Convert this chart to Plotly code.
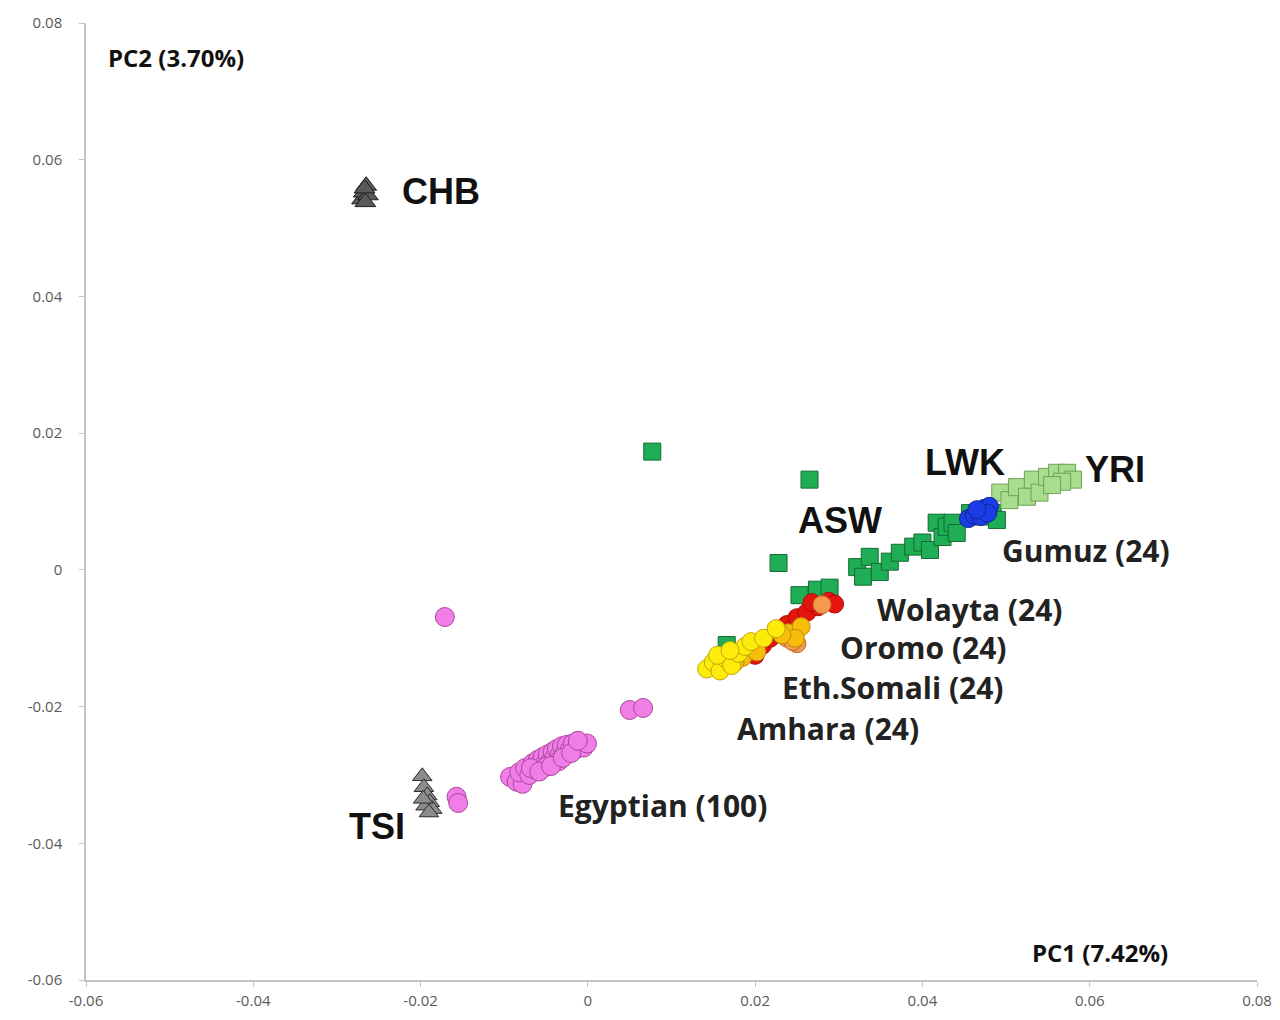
import plotly.graph_objects as go

# ---------------- data (PC1, PC2) ----------------
chb_x = [-0.0270, -0.0268, -0.0265, -0.0263, -0.0266, -0.0267]
chb_y = [0.0542, 0.0552, 0.0562, 0.0548, 0.0538, 0.0558]

tsi_x = [-0.0198, -0.0196, -0.0192, -0.0189, -0.0194, -0.0186, -0.0190, -0.0197]
tsi_y = [-0.0302, -0.0318, -0.0330, -0.0340, -0.0345, -0.0350, -0.0355, -0.0335]

egy_x = [-0.0171, -0.0157, -0.0155, 0.0050, 0.0066,
         -0.0093, -0.0085, -0.0078, -0.0082, -0.0075, -0.0070, -0.0066, -0.0063,
         -0.0060, -0.0057, -0.0054, -0.0051, -0.0048, -0.0045, -0.0042, -0.0040,
         -0.0037, -0.0034, -0.0031, -0.0028, -0.0025, -0.0022, -0.0018, -0.0014,
         -0.0010, -0.0005, -0.0001, -0.0068, -0.0050, -0.0035, -0.0058, -0.0044,
         -0.0030, -0.0020, -0.0012]
egy_y = [-0.0069, -0.0332, -0.0341, -0.0205, -0.0202,
         -0.0303, -0.0310, -0.0313, -0.0296, -0.0290, -0.0300, -0.0283, -0.0292,
         -0.0278, -0.0287, -0.0274, -0.0283, -0.0270, -0.0280, -0.0266, -0.0276,
         -0.0262, -0.0271, -0.0258, -0.0268, -0.0256, -0.0264, -0.0254, -0.0262,
         -0.0257, -0.0260, -0.0254, -0.0290, -0.0288, -0.0280, -0.0295, -0.0287,
         -0.0275, -0.0268, -0.0250]

asw_x = [0.0077, 0.0265, 0.0228, 0.0166, 0.0253, 0.0274, 0.0289]
asw_y = [0.0173, 0.0132, 0.0010, -0.0110, -0.0037, -0.0029, -0.0026]

gumuz_x = [0.0322, 0.0329, 0.0337, 0.0349, 0.0361, 0.0373, 0.0389, 0.0400, 0.0409,
           0.0417, 0.0424, 0.0429, 0.0436, 0.0441, 0.0457, 0.0469, 0.0484, 0.0489]
gumuz_y = [0.0004, -0.0010, 0.0019, -0.0003, 0.0012, 0.0025, 0.0034, 0.0040, 0.0029,
           0.0069, 0.0048, 0.0063, 0.0069, 0.0054, 0.0083, 0.0078, 0.0083, 0.0073]

yri_x = [0.0493, 0.0504, 0.0513, 0.0525, 0.0532, 0.0540, 0.0549, 0.0561, 0.0573,
         0.0580, 0.0567, 0.0555]
yri_y = [0.0113, 0.0102, 0.0121, 0.0107, 0.0132, 0.0113, 0.0136, 0.0142, 0.0142,
         0.0132, 0.0129, 0.0124]

lwk_x = [0.0455, 0.0462, 0.0468, 0.0474, 0.0480, 0.0470, 0.0478, 0.0465]
lwk_y = [0.0075, 0.0080, 0.0085, 0.0090, 0.0093, 0.0078, 0.0083, 0.0088]

wol_x = [0.0200, 0.0209, 0.0218, 0.0228, 0.0238, 0.0250, 0.0262, 0.0275, 0.0288,
         0.0295, 0.0190, 0.0268]
wol_y = [-0.0125, -0.0110, -0.0100, -0.0090, -0.0080, -0.0070, -0.0062, -0.0054,
         -0.0046, -0.0050, -0.0120, -0.0048]

oro_x = [0.0280, 0.0250, 0.0238, 0.0245]
oro_y = [-0.0051, -0.0108, -0.0100, -0.0105]

som_x = [0.0160, 0.0185, 0.0202, 0.0240, 0.0255, 0.0248, 0.0232, 0.0176]
som_y = [-0.0140, -0.0128, -0.0120, -0.0092, -0.0083, -0.0100, -0.0095, -0.0135]

amh_x = [0.0142, 0.0150, 0.0158, 0.0165, 0.0172, 0.0180, 0.0188, 0.0195, 0.0210,
         0.0225, 0.0155, 0.0170]
amh_y = [-0.0145, -0.0135, -0.0148, -0.0130, -0.0140, -0.0122, -0.0112, -0.0105,
         -0.0100, -0.0086, -0.0125, -0.0118]

tick_vals = [-0.06, -0.04, -0.02, 0, 0.02, 0.04, 0.06, 0.08]
tick_text = ["-0.06", "-0.04", "-0.02", "0", "0.02", "0.04", "0.06", "0.08"]

labels = [
    ("CHB", -0.02247, 0.0553, "big"),
    ("TSI", -0.0288, -0.0376, "big"),
    ("ASW", 0.02487, 0.00717, "big"),
    ("LWK", 0.04005, 0.01565, "big"),
    ("YRI", 0.05918, 0.01463, "big"),
    ("Gumuz (24)", 0.04925, 0.00278, "pop"),
    ("Wolayta (24)", 0.03431, -0.00585, "pop"),
    ("Oromo (24)", 0.02989, -0.01141, "pop"),
    ("Eth.Somali (24)", 0.02295, -0.01726, "pop"),
    ("Amhara (24)", 0.01757, -0.02326, "pop"),
    ("Egyptian (100)", -0.00383, -0.03453, "pop"),
    ("PC2 (3.70%)", -0.05762, 0.0749, "axis"),
    ("PC1 (7.42%)", 0.05284, -0.0560, "axis"),
]

# ---------------- figure ----------------
fig = go.Figure()

def add(x, y, symbol, fill, line, size, name):
    fig.add_trace(go.Scatter(
        x=x, y=y, mode="markers", name=name,
        marker=dict(symbol=symbol, size=size, color=fill,
                    line=dict(color=line, width=1)),
    ))

add(egy_x, egy_y, "circle", "#f07ee6", "#a9489c", 19, "Egyptian")
add(tsi_x, tsi_y, "triangle-up", "#8c8c8c", "#2a2a2a", 17, "TSI")
add(chb_x, chb_y, "triangle-up", "#5a5a5a", "#1e1e1e", 18, "CHB")
add(asw_x, asw_y, "square", "#1fae55", "#136b33", 17, "ASW")
add(gumuz_x, gumuz_y, "square", "#1fae55", "#136b33", 17, "Gumuz")
add(yri_x, yri_y, "square", "#a9dc8e", "#6aa455", 17, "YRI")
add(lwk_x, lwk_y, "circle", "#1c3ce6", "#10249a", 18, "LWK")
add(wol_x, wol_y, "circle", "#e4140e", "#b00a06", 18, "Wolayta")
add(oro_x, oro_y, "circle", "#f39a4e", "#c06a24", 18, "Oromo")
add(som_x, som_y, "circle", "#f6bd0a", "#c08a06", 18, "Eth.Somali")
add(amh_x, amh_y, "circle", "#fdeb0c", "#c0a606", 18, "Amhara")

for text, x, y, kind in labels:
    if kind == "big":
        font = dict(family="Liberation Sans, Arial", size=36, color="#111111")
    elif kind == "pop":
        font = dict(family="Open Sans", size=30, color="#222222")
    else:
        font = dict(family="Open Sans", size=24, color="#111111")
    fig.add_annotation(x=x, y=y, text="<b>" + text + "</b>", showarrow=False,
                       xanchor="left", yanchor="middle", font=font,
                       xref="x", yref="y")

axis_common = dict(
    showgrid=False, zeroline=False, showline=True, linecolor="#c4c4c4",
    linewidth=1.5, ticks="outside", tickcolor="#c4c4c4", ticklen=5,
    tickfont=dict(family="Open Sans", size=15, color="#5a5a5a"),
    tickvals=tick_vals, ticktext=tick_text, automargin=False,
    ticklabeloverflow="allow",
)

fig.update_layout(
    width=1272, height=1004,
    margin=dict(l=78, r=23, t=15, b=32, autoexpand=False),
    paper_bgcolor="white", plot_bgcolor="white",
    showlegend=False,
    xaxis=dict(range=[-0.06, 0.08], ticklabelstandoff=1, **axis_common),
    yaxis=dict(range=[-0.06, 0.08], ticklabelstandoff=14, **axis_common),
)

fig.write_html("out.html")
